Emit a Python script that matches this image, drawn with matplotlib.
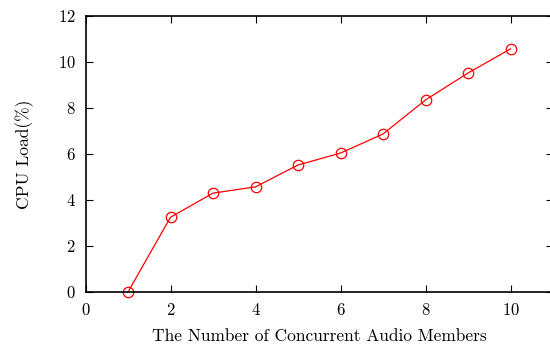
import matplotlib
matplotlib.use('Agg')
import matplotlib.pyplot as plt

members = [1, 2, 3, 4, 5, 6, 7, 8, 9, 10]
cpu_load = [0.0, 3.25, 4.3, 4.57, 5.52, 6.04, 6.87, 8.35, 9.52, 10.57]

plt.rcParams['font.family'] = 'serif'
plt.rcParams['font.serif'] = ['cmr10']
plt.rcParams['mathtext.fontset'] = 'cm'
plt.rcParams['axes.formatter.use_mathtext'] = True

fig = plt.figure(figsize=(5.5, 3.46), dpi=100)
ax = fig.add_axes([85.5 / 550, 54 / 346, 467.5 / 550, 276 / 346])

ax.plot(members, cpu_load, color='red', linewidth=0.9, marker='o',
        markersize=7.5, markerfacecolor='none', markeredgecolor='red',
        markeredgewidth=0.9, clip_on=False)

ax.set_xlim(0, 11)
ax.set_ylim(0, 12)
ax.set_xticks([0, 2, 4, 6, 8, 10])
ax.set_yticks([0, 2, 4, 6, 8, 10, 12])
ax.tick_params(direction='in', length=5, width=0.8, top=True, right=True,
               labelsize=12, pad=7)
for s in ax.spines.values():
    s.set_linewidth(1.2)

ax.set_xlabel('The Number of Concurrent Audio Members', fontsize=12.5, labelpad=8)
ax.set_ylabel('CPU Load(%)', fontsize=12.5, labelpad=17)

fig.savefig('out.png', dpi=100)
plt.close(fig)
